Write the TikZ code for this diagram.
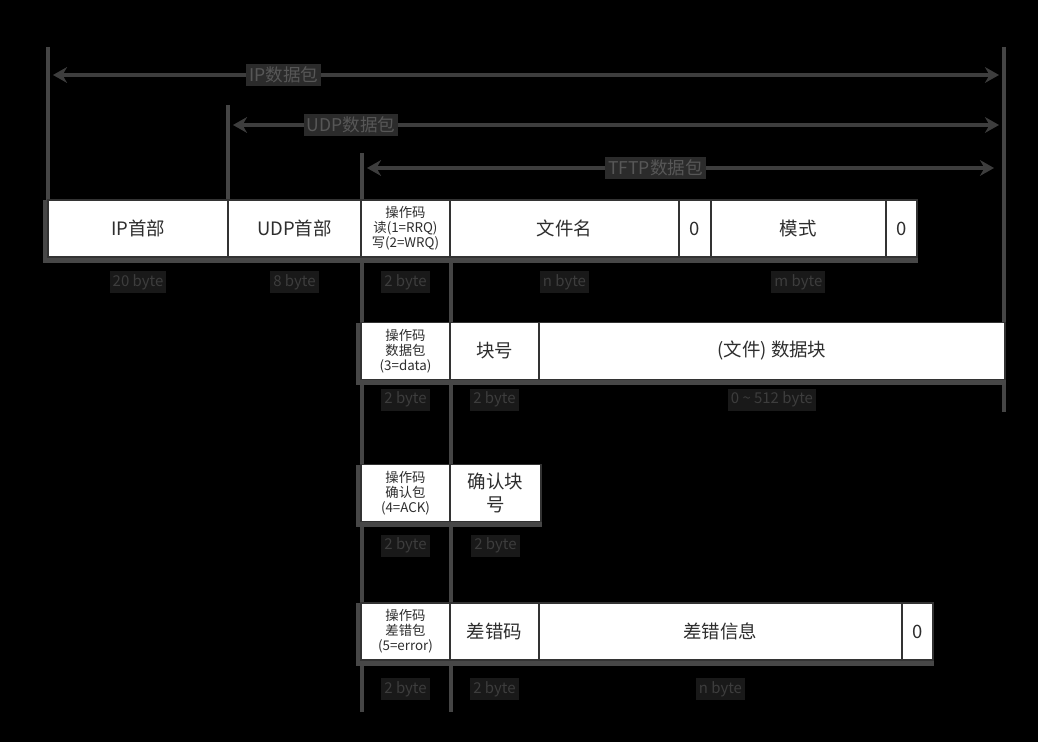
\documentclass[tikz,border=0pt]{standalone}
\usepackage{fontspec}
\setmainfont{Noto Sans CJK SC}
\usetikzlibrary{arrows.meta,fit,positioning}
\pgfdeclarelayer{bg}
\pgfdeclarelayer{back}
\pgfsetlayers{bg,back,main}

\begin{document}
\begin{tikzpicture}[x=0.02cm, y=-0.02cm, cell/.style={draw=black!80, fill=white, line width=1.1pt, inner sep=0pt, outer sep=0pt, minimum height=1.14cm, text=black!82, font=\fontsize{10.5}{13.5}\selectfont}, opc/.style={cell, align=center, font=\fontsize{7.6}{8.5}\selectfont}, sz/.style={fill=black!90, text=black!76, inner sep=1.8pt, font=\fontsize{8.5}{9}\selectfont}, pkt/.style={fill=black!83, text=black!66, inner sep=1.8pt, font=\fontsize{10}{11}\selectfont}, rail/.style={draw=black!73, line width=2.8pt}, lenarrow/.style={draw=black!76, line width=2.8pt, {Stealth[length=8pt,width=9pt]}-{Stealth[length=8pt,width=9pt]}}, tabshadow/.style={fill=black!72, inner sep=0.06cm, xshift=-0.04cm, yshift=-0.06cm}]

\begin{pgfonlayer}{bg}
\fill[black] (0,0) rectangle (1038,742);
\end{pgfonlayer}

% rails
\coordinate (r1t) at (48,47);
\coordinate (r1b) at (48,205);
\coordinate (r2t) at (228,105);
\coordinate (r2b) at (228,205);
\coordinate (r3t) at (362,153);
\coordinate (r3b) at (362,712);
\coordinate (r4t) at (451,205);
\coordinate (r4b) at (451,712);
\coordinate (r5t) at (1004,47);
\coordinate (r5b) at (1004,412);
\begin{pgfonlayer}{back}
\draw[rail] (r1t) -- (r1b);
\draw[rail] (r2t) -- (r2b);
\draw[rail] (r3t) -- (r3b);
\draw[rail] (r4t) -- (r4b);
\draw[rail] (r5t) -- (r5b);
\end{pgfonlayer}

% packet spans
\coordinate (ipL) at (53,75);
\coordinate (ipR) at (999,75);
\coordinate (udpL) at (233,125);
\coordinate (udpR) at (999,125);
\coordinate (tftpL) at (367,168);
\coordinate (tftpR) at (994,168);
\draw[lenarrow] (ipL) -- node[pkt, pos=0.244] (ipLbl) {IP数据包} (ipR);
\draw[lenarrow] (udpL) -- node[pkt, pos=0.154] (udpLbl) {UDP数据包} (udpR);
\draw[lenarrow] (tftpL) -- node[pkt, pos=0.46] (tftpLbl) {TFTP数据包} (tftpR);

% read / write request
\node[cell, minimum width=3.6cm] (ipHdr) at (138,228.5) {IP首部};
\node[cell, minimum width=2.66cm, right=0pt of ipHdr] (udpHdr) {UDP首部};
\node[opc, minimum width=1.78cm, right=0pt of udpHdr] (opRw) {操作码\\读(1=RRQ)\\写(2=WRQ)};
\node[cell, minimum width=4.58cm, right=0pt of opRw] (fileName) {文件名};
\node[cell, minimum width=0.64cm, right=0pt of fileName] (zeroA) {0};
\node[cell, minimum width=3.5cm, right=0pt of zeroA] (mode) {模式};
\node[cell, minimum width=0.62cm, right=0pt of mode] (zeroB) {0};
\node[sz, below=0.28cm of ipHdr] (lenIp) {20 byte};
\node[sz, below=0.28cm of udpHdr] (lenUdp) {8 byte};
\node[sz, below=0.28cm of opRw] (lenRw) {2 byte};
\node[sz, below=0.28cm of fileName] (lenName) {n byte};
\node[sz, below=0.28cm of mode] (lenMode) {m byte};

% data
\node[opc, minimum width=1.78cm] (opData) at (405.5,351) {操作码\\数据包\\(3=data)};
\node[cell, minimum width=1.78cm, right=0pt of opData] (blockNo) {块号};
\node[cell, minimum width=9.32cm, right=0pt of blockNo] (dataBlk) {(文件) 数据块};
\node[sz, below=0.18cm of opData] (lenData) {2 byte};
\node[sz, below=0.18cm of blockNo] (lenBlock) {2 byte};
\node[sz, below=0.18cm of dataBlk] (lenBlk) {0 \textasciitilde{} 512 byte};

% ack
\node[opc, minimum width=1.78cm] (opAck) at (405.5,493) {操作码\\确认包\\(4=ACK)};
\node[cell, minimum width=1.82cm, right=0pt of opAck, align=center] (ackNo) {确认块\\号};
\node[sz, below=0.26cm of opAck] (lenAck) {2 byte};
\node[sz, below=0.26cm of ackNo] (lenAckNo) {2 byte};

% error
\node[opc, minimum width=1.78cm] (opErr) at (405.5,631.5) {操作码\\差错包\\(5=error)};
\node[cell, minimum width=1.78cm, right=0pt of opErr] (errCode) {差错码};
\node[cell, minimum width=7.26cm, right=0pt of errCode] (errMsg) {差错信息};
\node[cell, minimum width=0.62cm, right=0pt of errMsg] (zeroC) {0};
\node[sz, below=0.36cm of opErr] (lenErr) {2 byte};
\node[sz, below=0.36cm of errCode] (lenCode) {2 byte};
\node[sz, below=0.36cm of errMsg] (lenMsg) {n byte};

\begin{pgfonlayer}{back}
\node[tabshadow, fit=(ipHdr)(zeroB)] (rwBg) {};
\node[tabshadow, fit=(opData)(dataBlk)] (dataBg) {};
\node[tabshadow, fit=(opAck)(ackNo)] (ackBg) {};
\node[tabshadow, fit=(opErr)(zeroC)] (errBg) {};
\end{pgfonlayer}
\end{tikzpicture}
\end{document}
